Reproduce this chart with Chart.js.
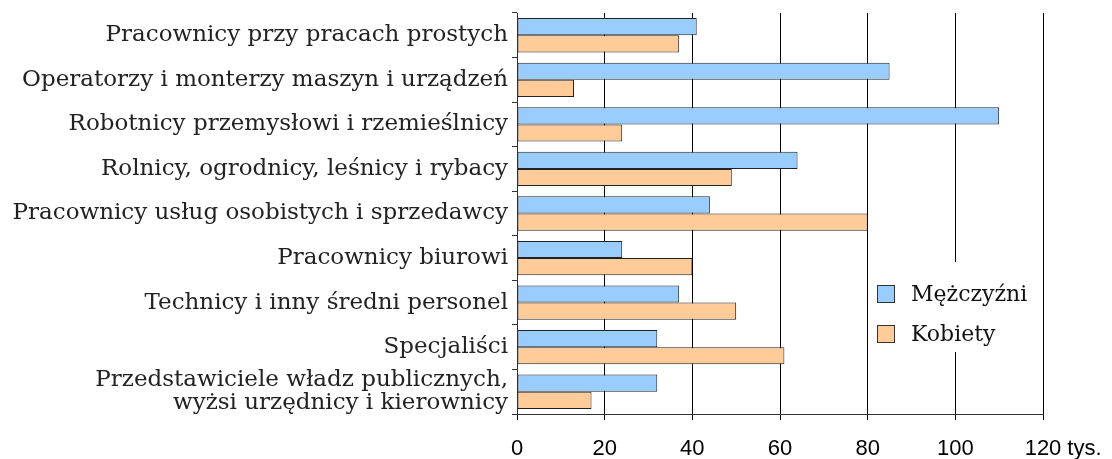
<!DOCTYPE html>
<html><head><meta charset="utf-8">
<script src="https://cdn.jsdelivr.net/npm/chart.js@4.4.1/dist/chart.umd.min.js"></script>
<style>html,body{margin:0;padding:0;background:#fff}#wrap{width:1112px;height:459px}</style>
</head><body><div id="wrap"><canvas id="c" width="1112" height="459"></canvas></div>
<script>
const categories = [
  "Pracownicy przy pracach prostych",
  "Operatorzy i monterzy maszyn i urządzeń",
  "Robotnicy przemysłowi i rzemieślnicy",
  "Rolnicy, ogrodnicy, leśnicy i rybacy",
  "Pracownicy usług osobistych i sprzedawcy",
  "Pracownicy biurowi",
  "Technicy i inny średni personel",
  "Specjaliści",
  ["Przedstawiciele władz publicznych,", "wyżsi urzędnicy i kierownicy"]
];
const men = [41, 85, 110, 64, 44, 24, 37, 32, 32];
const women = [37, 13, 24, 49, 80, 40, 50, 61, 17];
const seriesNames = ["Mężczyźni", "Kobiety"];
const xTicks = [0, 20, 40, 60, 80, 100, 120];
const unitLabel = "tys.";

const SERIF = '"DejaVu Serif", serif';
const SANS = '"Liberation Sans", Arial, sans-serif';
const colors = ["#99CCFF", "#FFCC99"];

const extras = {
  id: 'extras',
  afterDraw(chart) {
    const ctx = chart.ctx;
    const x = chart.scales.x, area = chart.chartArea;
    ctx.save();
    ctx.font = '22px ' + SANS;
    ctx.fillStyle = '#000';
    ctx.textBaseline = 'alphabetic';
    ctx.textAlign = 'left';
    const px = x.getPixelForValue(xTicks[xTicks.length - 1]);
    const w = ctx.measureText(String(xTicks[xTicks.length - 1])).width;
    ctx.fillText(unitLabel, px + w / 2 + 6, area.bottom + 41);
    // legend
    const lx = 877, ly = 285;
    ctx.fillStyle = '#fff';
    ctx.fillRect(lx - 5, ly - 23, 163, 90);
    ctx.font = '22px ' + SERIF;
    seriesNames.forEach((n, i) => {
      const y = ly + i * 40;
      ctx.fillStyle = colors[i];
      ctx.fillRect(lx + 0.5, y + 0.5, 17, 17);
      ctx.strokeStyle = '#333';
      ctx.lineWidth = 1;
      ctx.strokeRect(lx + 0.5, y + 0.5, 17, 17);
      ctx.fillStyle = '#111';
      ctx.fillText(n, lx + 34, y + 16);
    });
    ctx.restore();
  }
};

new Chart(document.getElementById('c'), {
  type: 'bar',
  data: {
    labels: categories,
    datasets: [
      { label: seriesNames[0], data: men, backgroundColor: colors[0], borderColor: '#222', borderWidth: 1, borderSkipped: false, categoryPercentage: 0.77, barPercentage: 1 },
      { label: seriesNames[1], data: women, backgroundColor: colors[1], borderColor: '#222', borderWidth: 1, borderSkipped: false, categoryPercentage: 0.77, barPercentage: 1 }
    ]
  },
  options: {
    indexAxis: 'y',
    responsive: false,
    animation: false,
    devicePixelRatio: 1,
    layout: { padding: { top: 13, right: 69, left: 0, bottom: 0 } },
    plugins: { legend: { display: false }, tooltip: { enabled: false } },
    scales: {
      x: {
        min: 0, max: 120,
        afterBuildTicks(s) { s.ticks = xTicks.map(v => ({ value: v })); },
        afterFit(s) { s.height = 45; s.paddingBottom = 0; },
        grid: { color: '#000', lineWidth: 1, tickLength: 6, drawTicks: true },
        border: { color: '#333', width: 1 },
        ticks: { font: { family: SANS, size: 22 }, color: '#000', padding: 16, maxRotation: 0 }
      },
      y: {
        afterFit(s) { s.width = 517; s.paddingTop = 0; s.paddingBottom = 0; },
        grid: { display: true, drawOnChartArea: false, offset: true, tickLength: 5, color: '#333' },
        border: { color: '#333', width: 1 },
        ticks: { font: { family: SERIF, size: 23, lineHeight: 1.0 }, color: '#222', padding: 4, autoSkip: false }
      }
    }
  },
  plugins: [extras]
});
</script></body></html>
